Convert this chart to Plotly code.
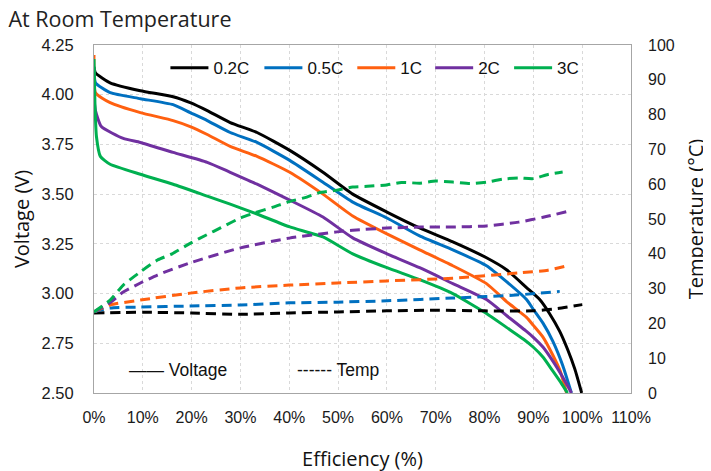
import plotly.graph_objects as go

# ---------------- data ----------------
series_names = ["0.2C", "0.5C", "1C", "2C", "3C"]
colors = ["#000000", "#0070C0", "#FF6010", "#7030A0", "#00B050"]

# Voltage curves (x = efficiency %, y = volts)
v02_x = [0, 0.3, 3.3, 9.5, 16.2, 19.7, 23.2, 27.9, 33.4, 40.1, 46.9, 53, 60, 66.7, 73.5, 80.4, 84.5, 88.6, 91.3, 93.3, 95.4, 97, 98.5, 99.9]
v02_y = [4.14, 4.11, 4.06, 4.02, 3.99, 3.96, 3.92, 3.86, 3.81, 3.72, 3.61, 3.50, 3.41, 3.33, 3.26, 3.18, 3.12, 3.03, 2.97, 2.90, 2.81, 2.72, 2.62, 2.50]

v05_x = [0, 0.3, 3.3, 9.5, 16.2, 19.7, 23.2, 27.9, 33.4, 40.1, 46.9, 53, 60, 66.7, 73.5, 80.4, 84.5, 88.6, 90, 92, 94, 96, 97.8]
v05_y = [4.14, 4.06, 4.01, 3.98, 3.95, 3.91, 3.87, 3.81, 3.76, 3.67, 3.56, 3.46, 3.38, 3.29, 3.22, 3.14, 3.06, 2.97, 2.92, 2.85, 2.76, 2.64, 2.50]

v1_x = [0, 0.3, 3.3, 9.5, 16.2, 19.7, 23.2, 27.9, 33.4, 40.1, 46.9, 53, 60, 66.7, 73.5, 80.4, 84.5, 88.6, 90, 92, 94, 95.5, 96.8]
v1_y = [4.20, 4.01, 3.96, 3.91, 3.87, 3.84, 3.80, 3.74, 3.69, 3.61, 3.50, 3.39, 3.30, 3.22, 3.14, 3.05, 2.96, 2.88, 2.84, 2.78, 2.69, 2.61, 2.50]

v2_x = [0, 0.3, 1.5, 6, 9.5, 16.2, 23.2, 27.9, 33.4, 40.1, 46.9, 53, 60, 66.7, 73.5, 80.4, 84.5, 88.6, 90, 92, 94, 96, 97.8]
v2_y = [3.98, 3.92, 3.84, 3.78, 3.76, 3.71, 3.66, 3.61, 3.55, 3.47, 3.385, 3.28, 3.20, 3.13, 3.05, 2.97, 2.89, 2.81, 2.78, 2.73, 2.66, 2.58, 2.50]

v3_x = [0, 0.2, 0.5, 1.3, 3.3, 9.5, 16.2, 23.2, 27.9, 33.4, 40.1, 46.9, 53, 60, 66.7, 73.5, 80.4, 84.5, 88, 90, 92, 94, 95.7, 97]
v3_y = [4.18, 3.95, 3.79, 3.69, 3.65, 3.60, 3.55, 3.49, 3.45, 3.40, 3.335, 3.285, 3.20, 3.13, 3.07, 3.00, 2.90, 2.83, 2.77, 2.73, 2.68, 2.61, 2.55, 2.50]

# Temperature curves (x = efficiency %, y = deg C)
t02_x = [0, 10, 20, 30, 40, 50, 60, 70, 80, 90, 95, 100]
t02_y = [23, 23.2, 23.0, 22.6, 23.0, 23.3, 23.6, 23.8, 23.6, 23.6, 24.3, 25.4]

t05_x = [0, 3.3, 9.5, 19.7, 30, 40, 49.8, 60, 73.5, 87, 95.4]
t05_y = [23.3, 24.4, 24.7, 25.0, 25.3, 25.9, 26.1, 26.5, 27.3, 28.2, 29.2]

t1_x = [0, 3.3, 9.5, 19.7, 30, 40, 49.8, 60, 73.5, 87, 93, 96.8]
t1_y = [23.3, 25.3, 26.7, 28.7, 30.2, 31.0, 31.6, 32.2, 33.0, 34.5, 35.3, 36.5]

t2_x = [0, 3.3, 6, 9.5, 13, 19.7, 30, 40, 49.8, 53, 60, 66.8, 73.5, 80.4, 87, 92, 97.4]
t2_y = [23.3, 26.0, 29.0, 31.6, 33.9, 37.4, 41.7, 44.5, 46.3, 46.8, 47.4, 47.7, 47.7, 48.0, 49.1, 50.5, 52.3]

t3_x = [0, 3.3, 6, 9.5, 13, 16, 19.7, 23, 26, 30, 33, 36.7, 40, 43.6, 46, 49.8, 53, 56, 60, 63, 66.8, 70, 73.5, 77, 80.4, 84, 87, 90, 93, 96]
t3_y = [23.3, 26.7, 31.0, 34.8, 38.2, 40.0, 43.0, 45.4, 47.5, 50.3, 51.8, 53.4, 55.0, 56.3, 57.5, 58.3, 59.2, 59.4, 59.8, 60.5, 60.3, 60.9, 60.6, 60.2, 60.6, 61.5, 61.8, 61.6, 62.8, 63.5]

volt_x = [v02_x, v05_x, v1_x, v2_x, v3_x]
volt_y = [v02_y, v05_y, v1_y, v2_y, v3_y]
temp_x = [t02_x, t05_x, t1_x, t2_x, t3_x]
temp_y = [t02_y, t05_y, t1_y, t2_y, t3_y]

x_ticks = list(range(0, 111, 10))
x_ticktext = [f"{v}%" for v in x_ticks]
y_ticks = [2.50, 2.75, 3.00, 3.25, 3.50, 3.75, 4.00, 4.25]
y2_ticks = list(range(0, 101, 10))

# legend anchor positions (paper fraction) for each series entry
legend_x = [0.133, 0.308, 0.481, 0.626, 0.773]

# ---------------- figure ----------------
# the page body has an 8px margin; the plot area is placed to match the window layout
W, H = 711, 471
L, R, T, B = 86, 88, 37, 86
ARIAL = "Liberation Sans, Arial, sans-serif"
TICK_FONT = dict(family=ARIAL, size=16, color="#1a1a1a")
YTICK_FONT = dict(family=ARIAL, size=16.5, color="#1a1a1a")
TITLE_FONT = dict(family="Open Sans, Lato, sans-serif", size=20, color="#111111")

fig = go.Figure()

for i, name in enumerate(series_names):
    fig.add_trace(go.Scatter(
        x=temp_x[i], y=temp_y[i], yaxis="y2", mode="lines", name=name + " temp",
        showlegend=False, hoverinfo="skip",
        line=dict(color=colors[i], width=3, dash="10px,6px", shape="spline", smoothing=0.6),
    ))

for i, name in enumerate(series_names):
    fig.add_trace(go.Scatter(
        x=volt_x[i], y=volt_y[i], mode="lines", name=name,
        legend="legend" if i == 0 else f"legend{i + 1}",
        line=dict(color=colors[i], width=3, shape="spline", smoothing=0.5),
    ))

grid = dict(showgrid=True, gridcolor="#D9D9D9", griddash="dot", gridwidth=1)

legends = {}
for i in range(len(series_names)):
    key = "legend" if i == 0 else f"legend{i + 1}"
    legends[key] = dict(orientation="h", x=legend_x[i], xanchor="left", y=0.985, yanchor="top",
                        font=dict(family=ARIAL, size=17, color="#111111"),
                        itemwidth=38, bgcolor="rgba(255,255,255,0)")

fig.update_layout(
    width=W, height=H,
    margin=dict(l=L, r=R, t=T, b=B, autoexpand=False),
    paper_bgcolor="white", plot_bgcolor="white",
    title=dict(text="At Room Temperature", x=0.5 / W, xanchor="left", xref="container",
               y=1.0 - 4 / H, yanchor="top", yref="container", pad=dict(t=0, b=0, l=0, r=0),
               font=dict(family="Open Sans, Lato, sans-serif", size=21.5, color="#222222")),
    xaxis=dict(range=[0, 110], tickvals=x_ticks, ticktext=x_ticktext, tickfont=TICK_FONT,
               showline=True, linecolor="#A6A6A6", linewidth=1, mirror=True,
               ticks="", ticklabelstandoff=10, zeroline=False, automargin=False,
               title=dict(text="Efficiency (%)", font=TITLE_FONT, standoff=26), **grid),
    yaxis=dict(range=[2.5, 4.25], tickvals=y_ticks, tickformat=".2f", tickfont=YTICK_FONT,
               showline=True, linecolor="#A6A6A6", linewidth=1, mirror=True,
               ticks="", ticklabelstandoff=16, zeroline=False, automargin=False,
               title=dict(text="Voltage (V)", font=TITLE_FONT, standoff=10), **grid),
    yaxis2=dict(range=[0, 100], tickvals=y2_ticks, overlaying="y", side="right",
                tickfont=TICK_FONT, showgrid=False, zeroline=False, ticks="",
                ticklabelstandoff=16, automargin=False,
                title=dict(text="Temperature (°C)", font=TITLE_FONT, standoff=15)),
    annotations=[
        dict(text="—— Voltage", x=0.062, y=0.065, xref="paper", yref="paper",
             xanchor="left", yanchor="middle", showarrow=False,
             font=dict(family=ARIAL, size=17.5, color="#111111")),
        dict(text="------ Temp", x=0.374, y=0.065, xref="paper", yref="paper",
             xanchor="left", yanchor="middle", showarrow=False,
             font=dict(family=ARIAL, size=17.5, color="#111111")),
    ],
    **legends,
)

fig.write_html("out.html")
